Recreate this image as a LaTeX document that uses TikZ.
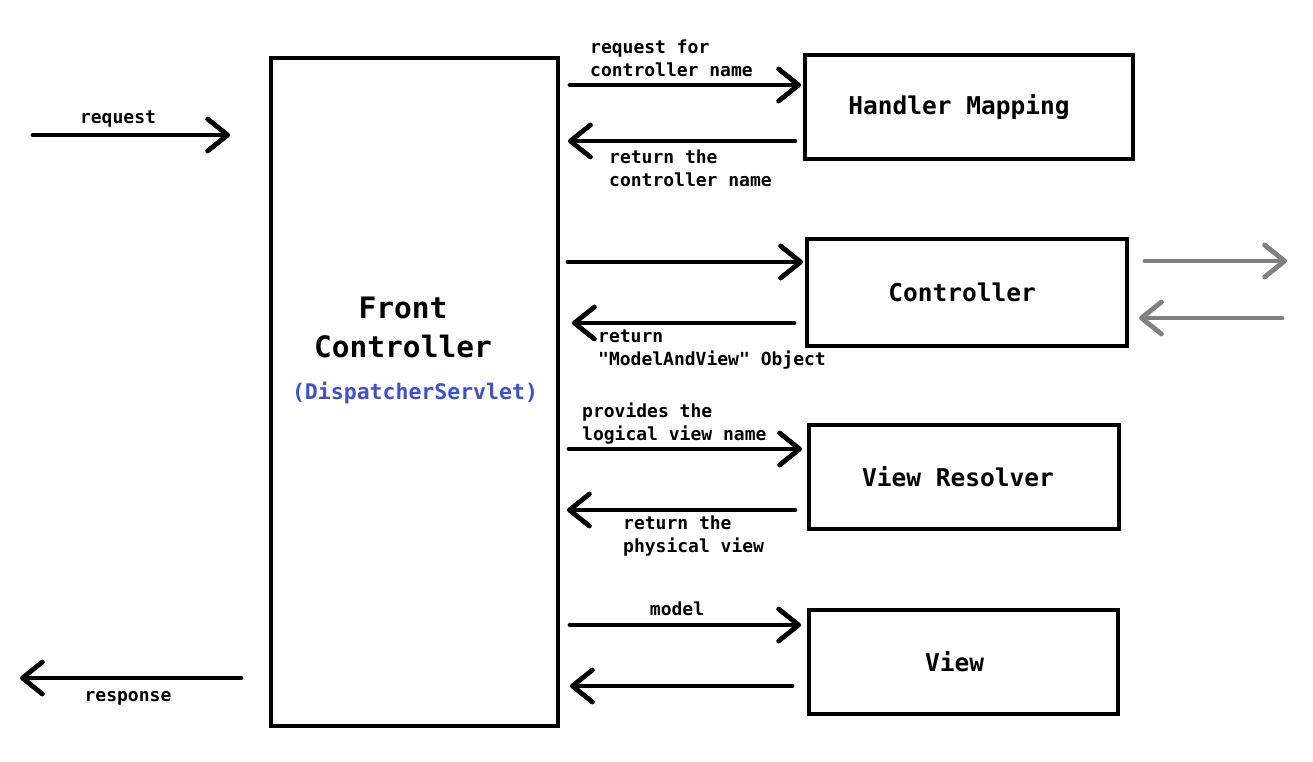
\documentclass[tikz,border=0pt]{standalone}
\usepackage{xcolor}
\usepackage{fontspec}
\setmonofont{DejaVu Sans Mono}
\usepackage{tikz}
\usetikzlibrary{arrows.meta,positioning}
\definecolor{servletblue}{RGB}{64,80,200}
\definecolor{extgray}{RGB}{128,128,128}

\begin{document}
\begin{tikzpicture}[x=1pt, y=-1pt,
    font=\ttfamily\bfseries\fontsize{18}{23}\selectfont,
    arr/.style={line width=4.8pt, line cap=round, -{Straight Barb[length=20pt,width=32pt,round]}},
    box/.style={draw, line width=4pt, inner sep=0pt, font=\ttfamily\bfseries\fontsize{24.5}{30}\selectfont},
    lbl/.style={inner sep=0pt, align=left, anchor=west}]
    \useasboundingbox (0,0) rectangle (1313,761);

    % the boxes
    \node[box, minimum width=287pt, minimum height=668pt] (fc) at (414.5,392) {};
    \node[box, minimum width=328pt, minimum height=104pt] (hm) at (969,107) {Handler Mapping\hspace*{20pt}};
    \node[box, minimum width=320pt, minimum height=107pt] (ctl) at (967,292.5) {Controller\hspace*{10pt}};
    \node[box, minimum width=310pt, minimum height=104pt] (vr) at (964,477) {View Resolver\hspace*{12pt}};
    \node[box, minimum width=309pt, minimum height=104pt] (view) at (963.5,662) {View\hspace*{18pt}};
    \node[align=center, font=\ttfamily\bfseries\fontsize{29.5}{39}\selectfont] (fctitle) at (403,327) {Front\\Controller};
    \node[text=servletblue, font=\ttfamily\bfseries\fontsize{21.5}{26}\selectfont] (fcsub) at (415,393) {(DispatcherServlet)};

    % request and response
    \coordinate (req start) at (33,135);
    \draw[arr, shorten >=39pt] (req start) -- (req start -| fc.west);
    \node (reqlbl) at (118,119) {request};
    \coordinate (resp end) at (20,678);
    \draw[arr, shorten <=28pt] (resp end -| fc.west) -- (resp end);
    \node (resplbl) at (128,698) {response};

    % handler mapping
    \coordinate (hm in) at ([yshift=22pt]hm.west);
    \coordinate (hm out) at ([yshift=-34pt]hm.west);
    \draw[arr, shorten <=10pt, shorten >=2pt] (fc.east |- hm in) -- (hm in);
    \draw[arr, shorten <=8pt, shorten >=8pt] (hm out) -- (fc.east |- hm out);
    \node[lbl] (hminlbl) at (590,58) {request for\\controller name};
    \node[lbl] (hmoutlbl) at (609,168) {return the\\controller name};

    % controller
    \coordinate (ctl in) at ([yshift=30.5pt]ctl.west);
    \coordinate (ctl out) at ([yshift=-30.5pt]ctl.west);
    \draw[arr, shorten <=8pt, shorten >=2pt] (fc.east |- ctl in) -- (ctl in);
    \draw[arr, shorten <=11pt, shorten >=12pt] (ctl out) -- (fc.east |- ctl out);
    \node[lbl] (ctloutlbl) at (598,350) {return\\"ModelAndView" Object};
    \coordinate (ext out) at (1287,261);
    \coordinate (ext in) at (1282,318);
    \draw[arr, extgray, shorten <=16pt] (ctl.east |- ext out) -- (ext out);
    \draw[arr, extgray, shorten >=10pt] (ext in) -- (ctl.east |- ext in);

    % view resolver
    \coordinate (vr in) at ([yshift=28pt]vr.west);
    \coordinate (vr out) at ([yshift=-33pt]vr.west);
    \draw[arr, shorten <=9pt, shorten >=5pt] (fc.east |- vr in) -- (vr in);
    \draw[arr, shorten <=12pt, shorten >=7pt] (vr out) -- (fc.east |- vr out);
    \node[lbl] (vrinlbl) at (582,424) {provides the\\logical view name};
    \node[lbl] (vroutlbl) at (623,536) {return the\\physical view};

    % view
    \coordinate (view in) at ([yshift=37pt]view.west);
    \coordinate (view out) at ([yshift=-24pt]view.west);
    \draw[arr, shorten <=10pt, shorten >=6pt] (fc.east |- view in) -- (view in);
    \draw[arr, shorten <=15pt, shorten >=10pt] (view out) -- (fc.east |- view out);
    \node (viewinlbl) at (677,609) {model};
\end{tikzpicture}
\end{document}
